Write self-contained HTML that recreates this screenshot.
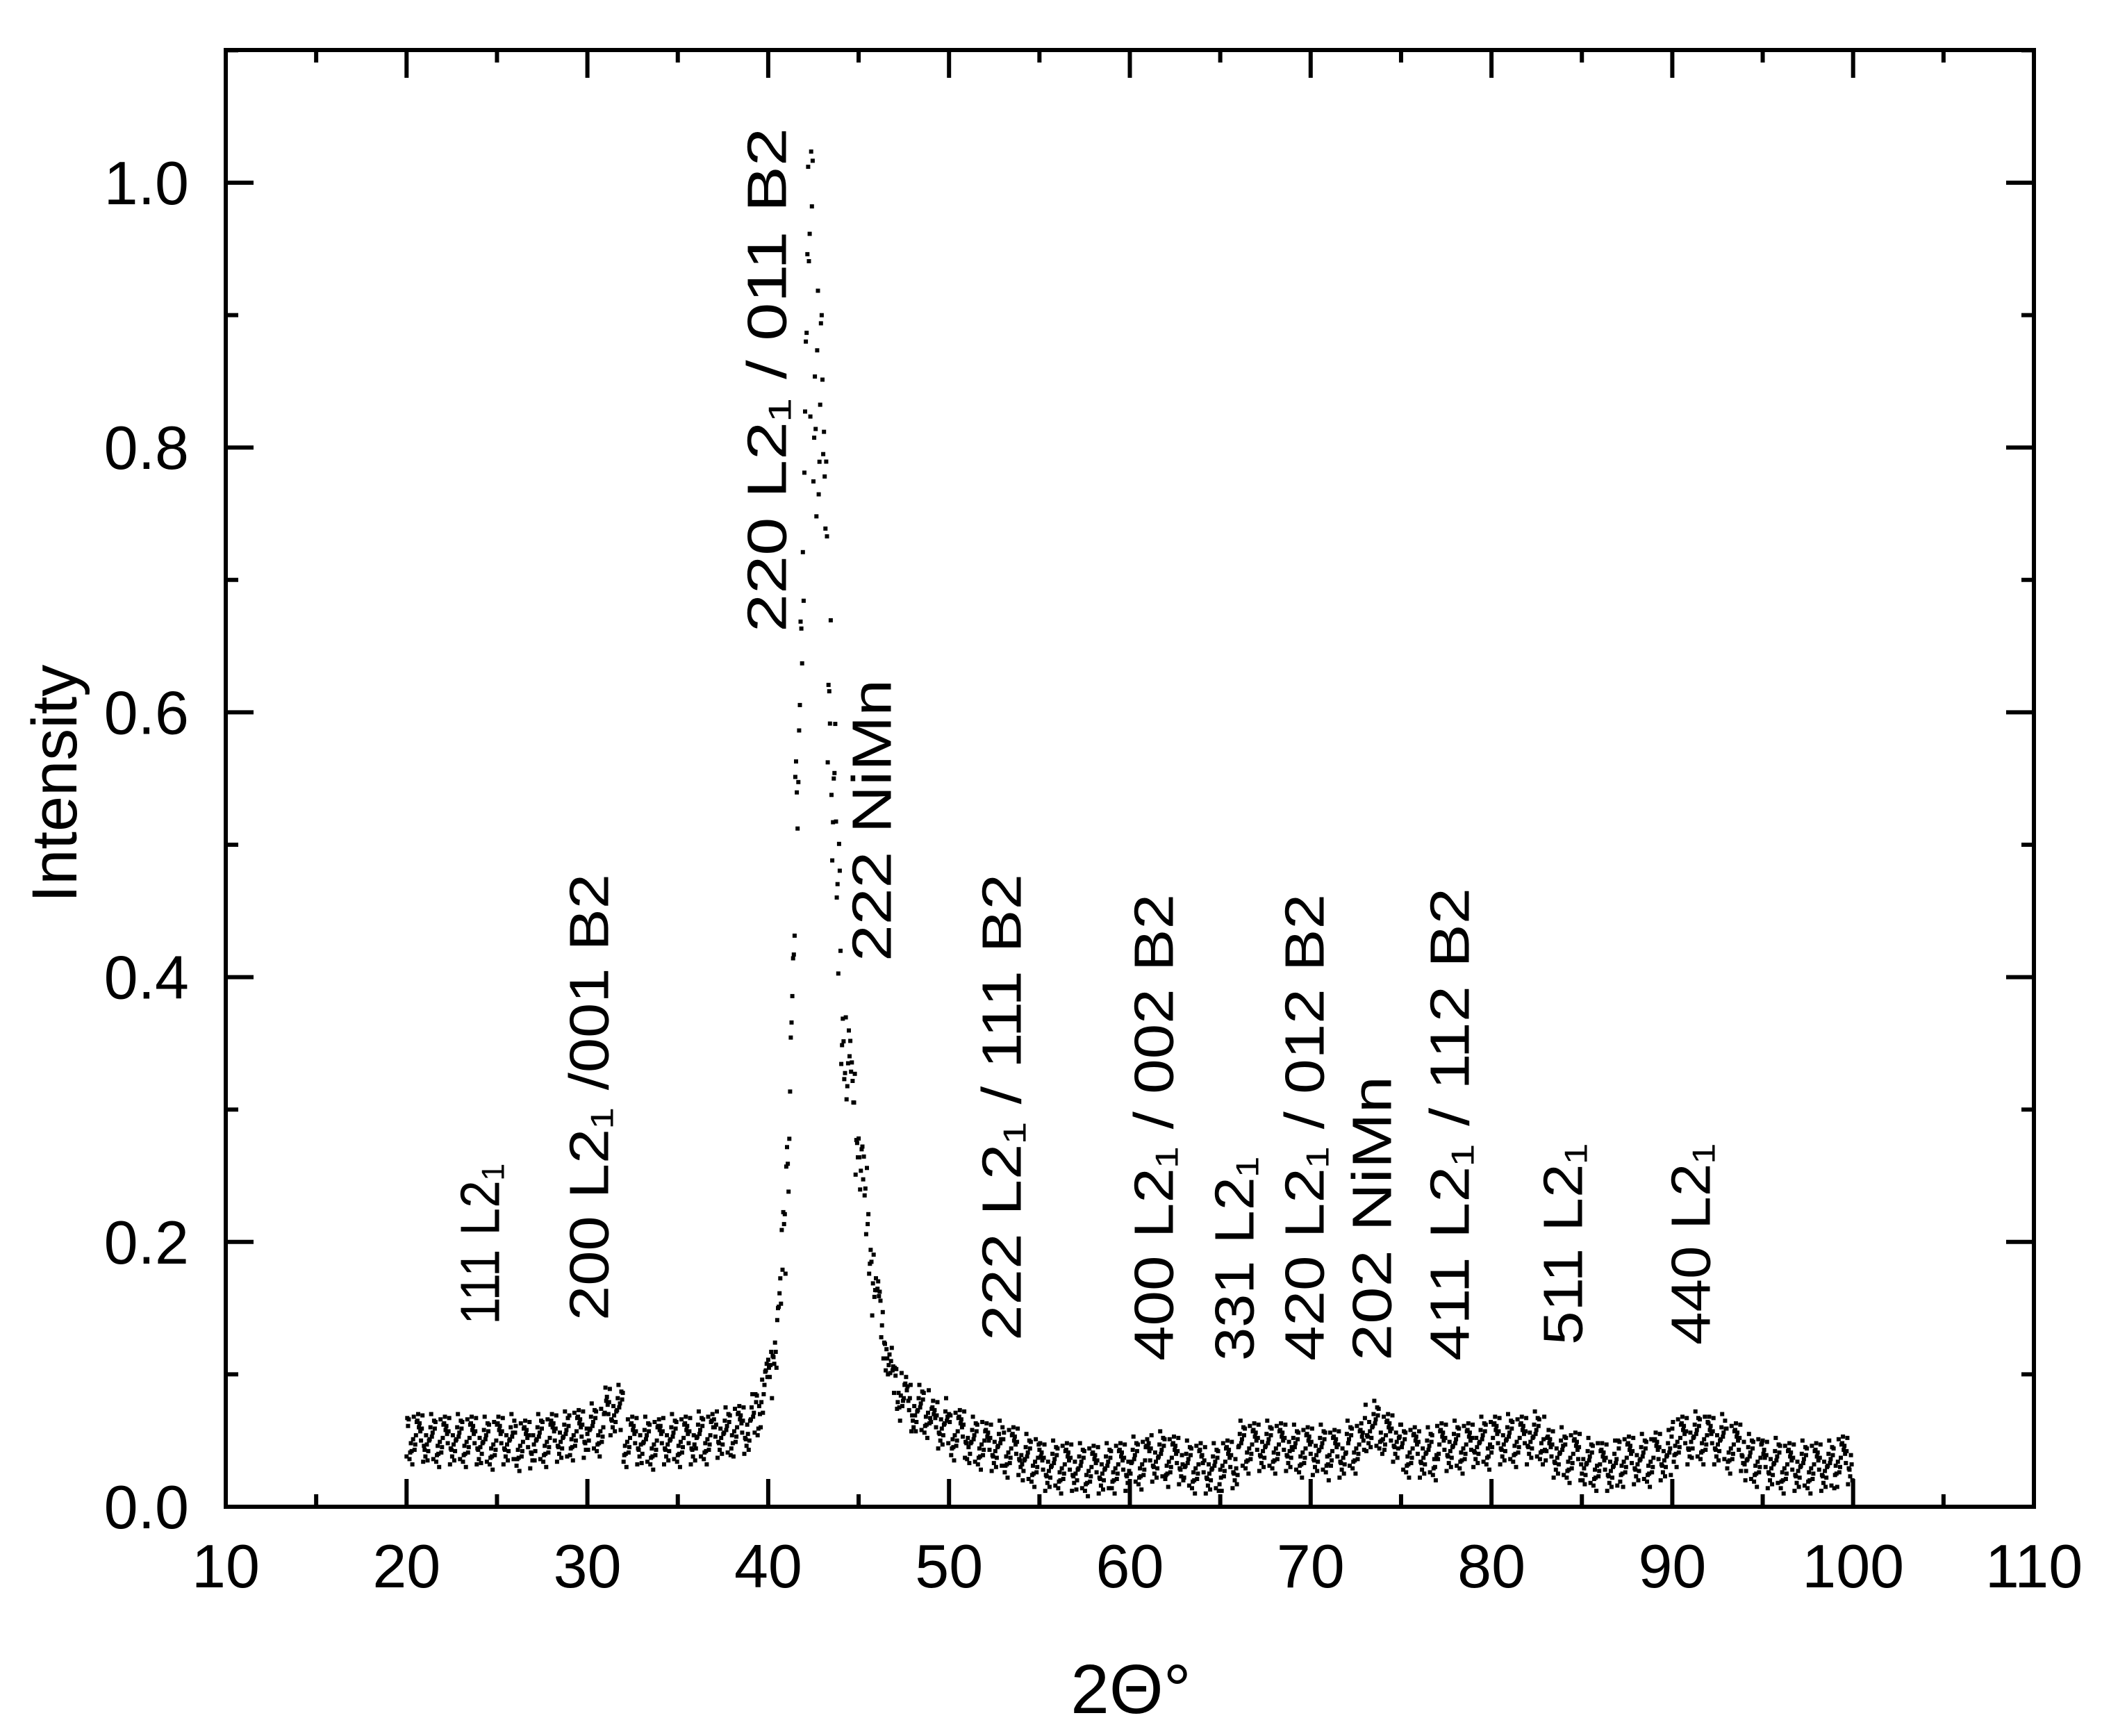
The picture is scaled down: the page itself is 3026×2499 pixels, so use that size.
<!DOCTYPE html>
<html><head><meta charset="utf-8"><style>
html,body{margin:0;padding:0;background:#fff}
svg{display:block}
text{font-family:"Liberation Sans","DejaVu Sans",sans-serif;fill:#000}
</style></head><body>
<svg id="chart" width="3026" height="2499" viewBox="0 0 3026 2499" xmlns="http://www.w3.org/2000/svg">
<g id="dots"></g>
<g id="axes"></g>
<g id="labels"></g>
<text transform="translate(79,1128) rotate(-90)" text-anchor="middle" dominant-baseline="central" font-size="92">Intensity</text>
<text x="1628" y="2466" text-anchor="middle" font-size="100">2Θ°</text>
</svg>
<script>
// x tick labels / y tick labels
var xTicks = [10,20,30,40,50,60,70,80,90,100,110];
var yTicks = [0.0,0.2,0.4,0.6,0.8,1.0];
// profile: bin start angle and mean intensity
var binStart = [20,21,22,23,24,25,26,27,28,29,30,31,32,33,34,35,36,37,38,
 39,39.25,39.5,39.75,40,40.25,40.5,40.75,41,41.25,41.5,41.75,42,42.25,42.5,42.75,43,43.25,43.5,43.75,44,44.25,44.5,44.75,45,45.25,45.5,45.75,46,46.25,46.5,46.75,47,47.25,47.5,47.75,
 48,49,50,51,52,53,54,55,56,57,58,59,60,61,62,63,64,65,66,67,68,69,70,71,72,73,74,75,76,77,78,79,80,81,82,83,84,85,86,87,88,89,90,91,92,93,94,95,96,97,98,99,100];
var binMean = [0.052,0.05,0.05,0.05,0.048,0.05,0.047,0.05,0.052,0.055,0.058,0.072,0.05,0.048,0.05,0.05,0.052,0.055,0.058,
 0.065,0.07,0.08,0.09,0.1,0.12,0.15,0.2,0.28,0.38,0.52,0.7,0.88,0.92,0.88,0.82,0.75,0.65,0.55,0.45,0.38,0.33,0.31,0.29,0.27,0.23,0.2,0.17,0.15,0.13,0.115,0.1,0.09,0.085,0.08,0.075,
 0.072,0.062,0.055,0.048,0.045,0.042,0.035,0.03,0.03,0.028,0.028,0.03,0.033,0.037,0.035,0.03,0.028,0.032,0.045,0.045,0.045,0.042,0.042,0.04,0.045,0.06,0.052,0.042,0.04,0.045,0.045,0.048,0.05,0.05,0.052,0.04,0.038,0.032,0.03,0.035,0.035,0.038,0.05,0.052,0.05,0.045,0.035,0.032,0.03,0.03,0.03,0.035];
// scatter offsets (hand-read spread pattern, units of noise amplitude)
var spread = [0.3,-0.6,0.9,-0.2,0.5,-0.9,0.1,0.7,-0.4,-0.1,0.8,-0.7,0.2,0.4,-0.5,1.0,-0.3,0.6,-0.8,0.0,0.35,-0.45,0.75,-0.15,0.55,-1.0,0.15,-0.35,0.65,-0.55,0.05,0.85,-0.25,0.45,-0.75,0.25,-0.05];

var NS = "http://www.w3.org/2000/svg";
function X(v){ return 325 + (v-10)*26.03; }
function Y(v){ return 2169 - v*1906; }
function mk(tag, attrs, parent){
  var e = document.createElementNS(NS, tag);
  for (var k in attrs) e.setAttribute(k, attrs[k]);
  parent.appendChild(e); return e;
}
var dots = document.getElementById('dots');
var cnt = 0;
for (var b=0; b<binStart.length-1; b++){
  var m = binMean[b];
  var w = binStart[b+1]-binStart[b];
  var n = Math.max(1, Math.round(w*25));
  var amp = Math.max(0.02, m*0.15);
  for (var j=0; j<n; j++){
    var xv = binStart[b] + j*w/n;
    cnt++;
    var yv = m + amp*spread[(cnt*11) % spread.length];
    var r = mk('rect', {x:(X(xv)-3).toFixed(1), y:(Y(yv)-3).toFixed(1), width:6, height:6, fill:'#000'}, dots);
    
    
  }
}
var ax = document.getElementById('axes');
var frame = mk('rect', {x:325, y:72, width:2603, height:2097, fill:'none', stroke:'#000', 'stroke-width':6}, ax);


for (var v=10; v<=110; v+=5){
  var len = (v%10===0) ? 40 : 18;
  mk('line', {x1:X(v), x2:X(v), y1:2169, y2:2169-len, stroke:'#000','stroke-width':6}, ax);
  mk('line', {x1:X(v), x2:X(v), y1:72, y2:72+len, stroke:'#000','stroke-width':6}, ax);
}
for (var i=0; i<=11; i++){
  var yv2 = i/10, len2 = (i%2===0) ? 40 : 18;
  mk('line', {x1:325, x2:325+len2, y1:Y(yv2), y2:Y(yv2), stroke:'#000','stroke-width':6}, ax);
  mk('line', {x1:2928, x2:2928-len2, y1:Y(yv2), y2:Y(yv2), stroke:'#000','stroke-width':6}, ax);
}
xTicks.forEach(function(t){
  var e = mk('text', {x:X(t), y:2285, 'text-anchor':'middle', 'font-size':88}, ax);
  e.textContent = t;
  
  
});
yTicks.forEach(function(t){
  var e = mk('text', {x:272, y:Y(t)+31, 'text-anchor':'end', 'font-size':88}, ax);
  e.textContent = t.toFixed(1);
  
  
});
var ann = [
 ["111 L2₁",691,1907,232],
 ["200 L2₁ /001 B2",848,1901,643],
 ["220 L2₁ / 011 B2",1104,910,726],
 ["222 NiMn",1255,1384,406],
 ["222 L2₁ / 111 B2",1442,1930,672],
 ["400 L2₁ / 002 B2",1661,1959,672],
 ["331 L2₁",1777,1959,294],
 ["420 L2₁ / 012 B2",1878,1959,672],
 ["202 NiMn",1975,1959,410],
 ["411 L2₁ / 112 B2",2087,1959,681],
 ["511 L2₁",2250,1936,290],
 ["440 L2₁",2434,1936,290]
];
var lg = document.getElementById('labels');
ann.forEach(function(a){
  var e = mk('text', {transform:'translate('+a[1]+','+a[2]+') rotate(-90)', 'dominant-baseline':'central', 'font-size':80, textLength:a[3], lengthAdjust:'spacingAndGlyphs'}, lg);
  e.textContent = a[0];
  
  
});
</script>
</body></html>
